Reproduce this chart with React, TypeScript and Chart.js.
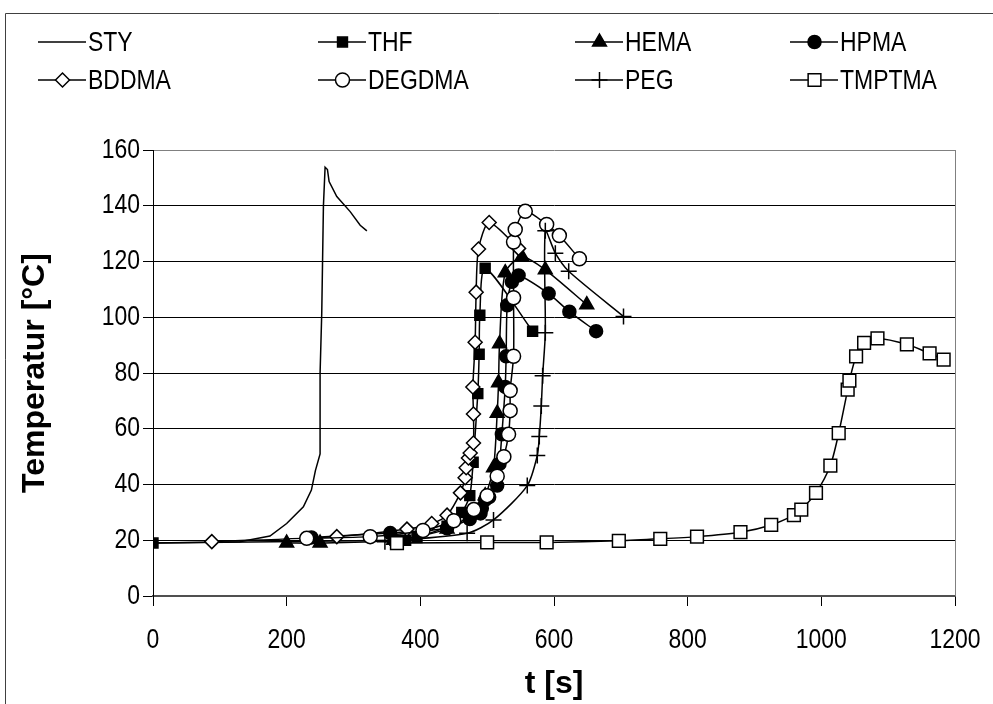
import React, { useEffect, useRef } from 'react';
import { Chart, registerables } from 'chart.js';
import { drawPoint } from 'chart.js/helpers';

Chart.register(...registerables);

const FONT = '"Liberation Sans", Arial, sans-serif';
const CONDENSE = 0.82; // the reference uses a narrow sans for regular text

// Axis ticks
const X_TICKS = [0, 200, 400, 600, 800, 1000, 1200];
const Y_TICKS = [0, 20, 40, 60, 80, 100, 120, 140, 160];

// Series data: time [s] and temperature [°C]
const STY_t = [0, 130, 175, 200, 225, 237, 243, 250, 250, 252.5, 255, 257.5, 261, 263.5, 275, 295, 310, 320];
const STY_T = [19, 19.5, 21.5, 26, 32, 38, 45, 51, 80, 101.6, 140, 153.8, 153, 148.7, 143.3, 137.9, 133, 131];

const THF_t = [0, 362, 378, 395, 440, 462, 474, 479, 486, 488, 489, 497, 568];
const THF_T = [19, 20, 20, 21, 25, 30, 36, 48, 72.6, 86.7, 100.7, 117.6, 95];

const HEMA_t = [200, 250, 360, 440, 480, 497, 509.5, 515, 517, 518.5, 527, 552, 587, 649];
const HEMA_T = [19, 19, 20, 24, 30, 36, 46, 65.6, 76.5, 90.5, 116, 121.7, 117, 104.5];

const HPMA_t = [237, 355, 440, 474, 490, 492, 497, 503, 515, 518.5, 522, 527, 528.4, 530, 537, 547, 592, 623, 663];
const HPMA_T = [21, 22.6, 24.3, 27.6, 29.6, 31.5, 34.5, 35.5, 39.6, 47.4, 58, 75, 86, 104.3, 112.7, 115, 108.5, 102, 95];

const BDDMA_t = [88, 275, 380, 417, 440, 460, 467, 468.6, 472, 474.6, 479.5, 479.5, 478.6, 482, 483.5, 487, 503, 547];
const BDDMA_T = [19.5, 21.3, 24, 26, 29, 37, 42.4, 46, 49.5, 51.3, 54.9, 65.3, 75, 91, 109, 124.5, 134, 124.7];

const DEGDMA_t = [230, 325, 404, 450, 480, 500, 515, 525, 532, 534.4, 534.4, 539.5, 539.5, 539.5, 542, 557, 589, 608, 638];
const DEGDMA_T = [20.7, 21.3, 23.5, 27, 31, 36, 43, 50, 58, 66.5, 73.7, 86, 107, 127, 131.5, 138, 133.3, 129.3, 121];

const PEG_t = [347, 470, 509.5, 560, 575, 578, 581, 583, 587, 587, 602, 622, 704];
const PEG_T = [19.5, 22.5, 27.3, 39.6, 50.4, 57.2, 68.2, 79, 94.4, 131, 123, 116.5, 100.3];

const TMPTMA_t = [365, 500, 589, 697, 759, 814, 879, 925, 959, 970, 992, 1013.5, 1026, 1039.4, 1042, 1052, 1064, 1084, 1128, 1162, 1183];
const TMPTMA_T = [19, 19.2, 19.2, 19.8, 20.5, 21.3, 22.9, 25.5, 29, 31, 37, 46.8, 58.4, 74, 77.3, 86, 90.8, 92.4, 90.3, 87, 84.8];

type Marker = { style: any; radius: number; fill: string };

const SERIES: { name: string; t: number[]; T: number[]; marker: Marker | null; tension: number }[] = [
  { name: 'STY', t: STY_t, T: STY_T, marker: null, tension: 0 },
  { name: 'THF', t: THF_t, T: THF_T, marker: { style: 'rect', radius: 7, fill: '#000' }, tension: 0.25 },
  { name: 'HEMA', t: HEMA_t, T: HEMA_T, marker: { style: 'triangle', radius: 8, fill: '#000' }, tension: 0.25 },
  { name: 'HPMA', t: HPMA_t, T: HPMA_T, marker: { style: 'circle', radius: 6.5, fill: '#000' }, tension: 0.25 },
  { name: 'BDDMA', t: BDDMA_t, T: BDDMA_T, marker: { style: 'rectRot', radius: 7, fill: '#fff' }, tension: 0.25 },
  { name: 'DEGDMA', t: DEGDMA_t, T: DEGDMA_T, marker: { style: 'circle', radius: 7, fill: '#fff' }, tension: 0.25 },
  { name: 'PEG', t: PEG_t, T: PEG_T, marker: { style: 'cross', radius: 8, fill: '#fff' }, tension: 0.25 },
  { name: 'TMPTMA', t: TMPTMA_t, T: TMPTMA_T, marker: { style: 'rect', radius: 9, fill: '#fff' }, tension: 0.25 },
];

const LEGEND_COLS = [38, 318, 575, 790];
const LEGEND_ROWS = [42, 80];

const decorPlugin = {
  id: 'decor',
  afterDraw(chart: any) {
    const ctx = chart.ctx as CanvasRenderingContext2D;
    const area = chart.chartArea;
    ctx.save();
    // outer frame
    ctx.strokeStyle = '#404040';
    ctx.lineWidth = 1;
    ctx.beginPath();
    ctx.moveTo(5.5, 720);
    ctx.lineTo(5.5, 13.5);
    ctx.lineTo(1000, 13.5);
    ctx.stroke();
    // plot area right border
    ctx.strokeStyle = '#808080';
    ctx.beginPath();
    ctx.moveTo(Math.round(area.right) + 0.5, area.top);
    ctx.lineTo(Math.round(area.right) + 0.5, area.bottom);
    ctx.stroke();
    // legend
    SERIES.forEach((s, i) => {
      const x0 = LEGEND_COLS[i % 4];
      const y = LEGEND_ROWS[Math.floor(i / 4)];
      ctx.strokeStyle = '#000';
      ctx.lineWidth = 1.5;
      ctx.beginPath();
      ctx.moveTo(x0, y);
      ctx.lineTo(x0 + 48, y);
      ctx.stroke();
      if (s.marker) {
        ctx.fillStyle = s.marker.fill;
        ctx.strokeStyle = '#000';
        ctx.lineWidth = 1.5;
        drawPoint(ctx, { pointStyle: s.marker.style, radius: s.marker.radius, rotation: 0, borderWidth: 1.5 } as any, x0 + 24.5, y);
      }
      ctx.fillStyle = '#000';
      ctx.font = `28px ${FONT}`;
      ctx.textBaseline = 'middle';
      ctx.textAlign = 'left';
      ctx.fillText(s.name, x0 + 50, y + 1);
    });
    ctx.restore();
  },
};

export default function App() {
  const ref = useRef<HTMLCanvasElement | null>(null);
  useEffect(() => {
    document.body.style.margin = '0';
    const canvas = ref.current!;
    const ctx = canvas.getContext('2d')!;
    // condense regular-weight text horizontally (narrow face is not installed)
    const origFill = ctx.fillText.bind(ctx);
    (ctx as any).fillText = (text: string, x: number, y: number, maxWidth?: number) => {
      if (!/bold/.test(ctx.font)) {
        const w = ctx.measureText(text).width * CONDENSE;
        origFill(text, x, y, maxWidth !== undefined ? Math.min(maxWidth, w) : w);
      } else if (maxWidth !== undefined) {
        origFill(text, x, y, maxWidth);
      } else {
        origFill(text, x, y);
      }
    };
    const chart = new Chart(canvas, {
      type: 'scatter',
      data: {
        datasets: SERIES.map((s, i) => ({
          label: s.name,
          data: s.t.map((t, k) => ({ x: t, y: s.T[k] })),
          showLine: true,
          borderColor: '#000',
          borderWidth: 1.5,
          tension: s.tension,
          pointStyle: s.marker ? s.marker.style : false,
          pointRadius: s.marker ? s.marker.radius : 0,
          pointBackgroundColor: s.marker ? s.marker.fill : '#000',
          pointBorderColor: '#000',
          pointBorderWidth: 1.5,
          order: SERIES.length - i,
        })),
      },
      options: {
        animation: false,
        responsive: false,
        layout: { padding: { top: 150, right: 38, left: 0, bottom: 0 } },
        plugins: { legend: { display: false }, tooltip: { enabled: false } },
        scales: {
          x: {
            type: 'linear',
            min: 0,
            max: 1200,
            afterBuildTicks: (s: any) => { s.ticks = X_TICKS.map((v) => ({ value: v })); },
            ticks: { font: { family: FONT, size: 28 }, color: '#000', padding: 17, maxRotation: 0, callback: (v: any) => String(v) },
            grid: { drawOnChartArea: false, drawTicks: true, tickLength: 10, color: '#000' },
            border: { color: '#505050', width: 2 },
            title: { display: true, text: 't [s]', color: '#000', font: { family: FONT, size: 32, weight: 'bold' }, padding: { top: 0, bottom: 1 } },
            afterFit: (s: any) => { s.height = 108; s.paddingLeft = 0; s.paddingRight = 0; },
          },
          y: {
            type: 'linear',
            min: 0,
            max: 160,
            afterBuildTicks: (s: any) => { s.ticks = Y_TICKS.map((v) => ({ value: v })); },
            ticks: { font: { family: FONT, size: 28 }, color: '#000', padding: 3, callback: (v: any) => String(v) },
            grid: { color: (c: any) => (c.tick && c.tick.value === 160 ? '#808080' : '#000'), lineWidth: 1, tickLength: 10, tickColor: '#000' },
            border: { color: '#000', width: 1 },
            title: { display: true, text: 'Temperatur [°C]', color: '#000', font: { family: FONT, size: 32, weight: 'bold' }, padding: { top: 16, bottom: 0 } },
            afterFit: (s: any) => { s.width = 153; s.paddingTop = 0; s.paddingBottom = 0; },
          },
        },
      },
      plugins: [decorPlugin],
    } as any);
    return () => chart.destroy();
  }, []);
  return (
    <div style={{ width: 993, height: 704, background: '#fff' }}>
      <canvas ref={ref} width={993} height={704} style={{ display: 'block' }} />
    </div>
  );
}
